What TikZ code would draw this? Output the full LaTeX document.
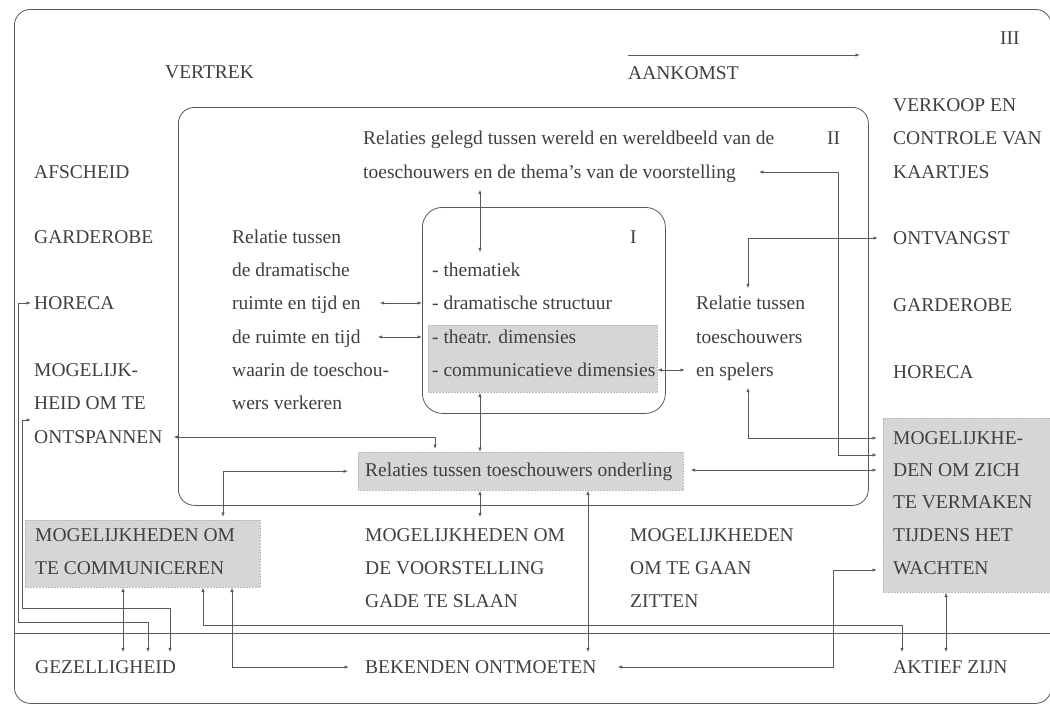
\documentclass[tikz,border=0pt]{standalone}
\usepackage{fontspec}
\setmainfont{Liberation Serif}
\usetikzlibrary{arrows.meta,calc}
\definecolor{ink}{HTML}{404040}
\definecolor{ln}{HTML}{5A5A5A}
\definecolor{shd}{HTML}{D6D6D6}
\begin{document}
\begin{tikzpicture}[x=1pt,y=-1pt,
  txt/.style={anchor=west, inner xsep=3pt, inner ysep=3pt, text height=13pt, text depth=0pt, font=\fontsize{19.5}{22}\selectfont, text=ink},
  frame/.style={draw=ln, line width=0.8pt, rounded corners=16pt, anchor=north west, inner sep=0pt},
  shbox/.style={fill=shd, draw=gray!55, densely dotted, line width=0.5pt, inner sep=0pt, anchor=north west},
  conn/.style={draw=ln, line width=0.8pt, {Latex[length=4.5pt,width=3.5pt]}-{Latex[length=4.5pt,width=3.5pt]}},
  one/.style={draw=ln, line width=0.8pt, -{Latex[length=4.5pt,width=3.5pt]}},
]
\useasboundingbox (0,0) rectangle (1050,705);
\fill[white] (0,0) rectangle (1050,705);

% shaded boxes
\node[shbox, minimum width=229pt, minimum height=67pt] (shI) at (428,325) {};
\node[shbox, minimum width=325pt, minimum height=38pt] (relbox) at (358,452) {};
\node[shbox, minimum width=235pt, minimum height=67pt] (commbox) at (25,520) {};
\node[shbox, minimum width=167pt, minimum height=174pt] (rbox) at (883,418) {};

% frames
\node[frame, minimum width=1037pt, minimum height=694pt] (fIII) at (14,9) {};
\node[frame, minimum width=690pt, minimum height=398pt] (fII) at (178,107) {};
\node[frame, minimum width=243pt, minimum height=206pt, rounded corners=20pt] (fI) at (422,207) {};

\coordinate (sepL) at (14,633);
\coordinate (sepR) at (1050,633);
\draw[ln, line width=0.8pt] (sepL) -- (sepR);

% labels
\node[txt] (lIII) at (997,38) {III};
\node[txt] (lII) at (824,138) {II};
\node[txt] (lI) at (627,237) {I};

\node[txt] (vertrek) at (162,72) {VERTREK};
\node[txt] (ank) at (625,73) {AANKOMST};
\coordinate (aS) at (628,55);
\coordinate (aE) at (860,55);
\draw[one] (aS) -- (aE);

\node[txt] (wb1) at (360,138) {Relaties gelegd tussen wereld en wereldbeeld van de};
\node[txt] (wb2) at (360,172) {toeschouwers en de thema's van de voorstelling};

% left column
\node[txt] (afsch) at (31,172) {AFSCHEID};
\node[txt] (garl) at (31,237) {GARDEROBE};
\node[txt] (horl) at (31,303) {HORECA};
\node[txt] (mog1) at (31,370) {MOGELIJK-};
\node[txt] (mog2) at (31,403) {HEID OM TE};
\node[txt] (ontsp) at (31,437) {ONTSPANNEN};

% relatie tussen dramatische ruimte
\node[txt] (rt1) at (229,237) {Relatie tussen};
\node[txt] (rt2) at (229,270) {de dramatische};
\node[txt] (rt3) at (229,303) {ruimte en tijd en};
\node[txt] (rt4) at (229,337) {de ruimte en tijd};
\node[txt] (rt5) at (229,370) {waarin de toeschou-};
\node[txt] (rt6) at (229,403) {wers verkeren};

% box I content
\node[txt] (th1) at (429,270) {- thematiek};
\node[txt] (th2) at (429,303) {- dramatische structuur};
\node[txt] (th3) at (429,337) {- theatr. dimensies};
\node[txt] (th4) at (429,370) {- communicatieve dimensies};

% relatie toeschouwers spelers
\node[txt] (rs1) at (693,303) {Relatie tussen};
\node[txt] (rs2) at (693,337) {toeschouwers};
\node[txt] (rs3) at (693,370) {en spelers};

% right column
\node[txt] (verk) at (890,105) {VERKOOP EN};
\node[txt] (contr) at (890,138) {CONTROLE VAN};
\node[txt] (kaart) at (890,172) {KAARTJES};
\node[txt] (ontv) at (890,238) {ONTVANGST};
\node[txt] (garr) at (890,305) {GARDEROBE};
\node[txt] (horr) at (890,372) {HORECA};
\node[txt] (vm1) at (890,438) {MOGELIJKHE-};
\node[txt] (vm2) at (890,470) {DEN OM ZICH};
\node[txt] (vm3) at (890,502) {TE VERMAKEN};
\node[txt] (vm4) at (890,535) {TIJDENS HET};
\node[txt] (vm5) at (890,568) {WACHTEN};

% middle
\node[txt] (relt) at (362,470) {Relaties tussen toeschouwers onderling};
\node[txt] (cm1) at (32,535) {MOGELIJKHEDEN OM};
\node[txt] (cm2) at (32,568) {TE COMMUNICEREN};
\node[txt] (gv1) at (362,535) {MOGELIJKHEDEN OM};
\node[txt] (gv2) at (362,568) {DE VOORSTELLING};
\node[txt] (gv3) at (362,601) {GADE TE SLAAN};
\node[txt] (gz1) at (627,535) {MOGELIJKHEDEN};
\node[txt] (gz2) at (627,568) {OM TE GAAN};
\node[txt] (gz3) at (627,601) {ZITTEN};

% bottom
\node[txt] (gez) at (32,667) {GEZELLIGHEID};
\node[txt] (bek) at (362,667) {BEKENDEN ONTMOETEN};
\node[txt] (akt) at (890,667) {AKTIEF ZIJN};

% helper coordinates
\coordinate (x480) at (480,0);
\coordinate (x748) at (748,0);
\coordinate (x435) at (435,0);
\coordinate (x223) at (223,0);
\coordinate (x588) at (588,0);
\coordinate (x946) at (946,0);
\coordinate (x203) at (203,0);
\coordinate (x232) at (232,0);
\coordinate (x123) at (123,0);
\coordinate (x148) at (148,0);
\coordinate (x170) at (170,0);
\coordinate (k7) at (838,455);
\coordinate (k14) at (833,570);
\coordinate (k16) at (902,625);
\coordinate (k19) at (18,622);
\coordinate (k20) at (22,608);
\coordinate (ontspL) at ($(mog2.west)!0.5!(ontsp.west)$);

% connectors
\draw[conn, shorten <=8pt, shorten >=8pt] (wb2.south -| x480) -- (th1.north -| x480);
\draw[conn, shorten <=16pt] (rt3.east) -- (rt3.east -| fI.west);
\draw[conn, shorten <=14pt] (rt4.east) -- (rt4.east -| fI.west);
\draw[conn, shorten >=8pt] (th4.east -| shI.east) -- (rs3.west);
\draw[conn, shorten <=5pt, shorten >=12pt] (rs1.north -| x748) |- (ontv.west);
\draw[conn, shorten <=8pt, shorten >=6pt] (rs3.south -| x748) |- (vm1.west -| rbox.west);
\draw[conn, shorten <=20pt, shorten >=6pt] (wb2.east) -| (k7) -- (k7 -| rbox.west);
\draw[conn, shorten <=7pt, shorten >=6pt] (relt -| relbox.east) -- (relt -| rbox.west);
\draw[conn, shorten <=8pt, shorten >=3pt] (ontsp.east) -| (relbox.north -| x435);
\draw[conn] (shI.south -| x480) -- (relbox.north -| x480);
\draw[conn, shorten >=8pt] (relbox.south -| x480) -- (gv1.north -| x480);
\draw[conn, shorten <=10pt, shorten >=3pt] (relbox.west) -| (commbox.north -| x223);
\draw[conn, shorten >=5pt] (relbox.south -| x588) -- (bek.north -| x588);
\draw[conn, shorten <=18pt, shorten >=6pt] (bek.east) -| (k14) -- (k14 -| rbox.west);
\draw[conn, shorten >=5pt] (rbox.south -| x946) -- (akt.north -| x946);
\draw[conn, shorten >=5pt] (commbox.south -| x203) |- (k16) -- (k16 |- akt.north);
\draw[conn, shorten >=13pt] (commbox.south -| x232) |- (bek.west);
\draw[conn, shorten >=5pt] (commbox.south -| x123) -- (gez.north -| x123);
\draw[conn, shorten >=5pt] (horl.west) -| (k19) -| (x148 |- gez.north);
\draw[conn, shorten >=5pt] (ontspL) -| (k20) -| (x170 |- gez.north);
\end{tikzpicture}
\end{document}
